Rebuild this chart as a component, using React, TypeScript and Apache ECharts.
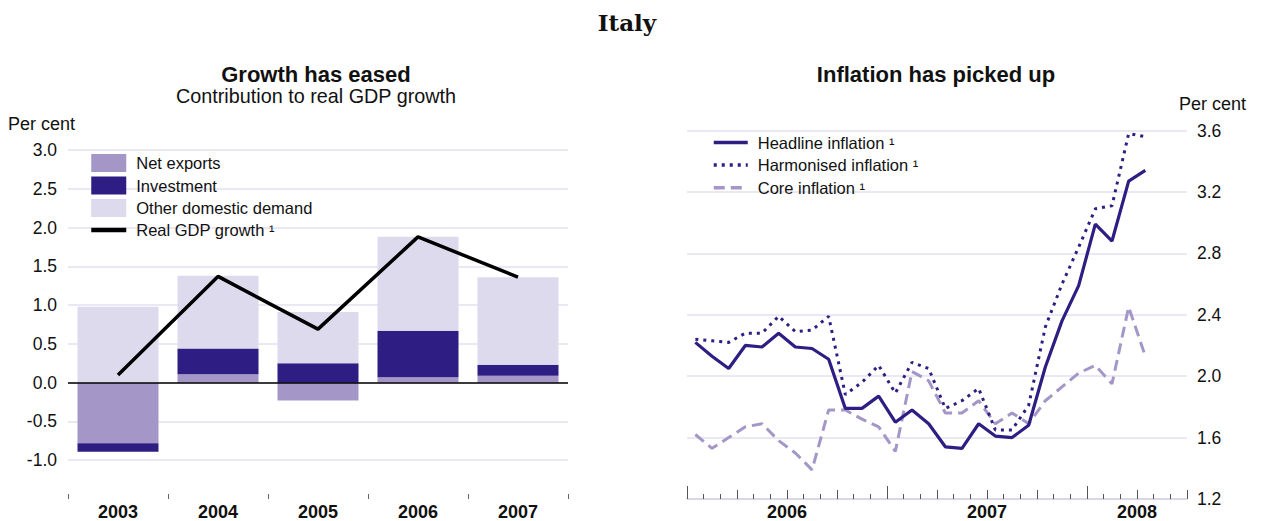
import React, { useEffect, useRef } from "react";
import * as echarts from "echarts";

// ---- Left panel: contribution to real GDP growth ----
const years = ["2003", "2004", "2005", "2006", "2007"];
const netExports = [-0.78, 0.11, -0.23, 0.07, 0.09];
const investment = [-0.11, 0.33, 0.25, 0.6, 0.14];
const otherDomestic = [0.98, 0.94, 0.66, 1.21, 1.13];
const realGdp = [0.1, 1.37, 0.69, 1.88, 1.36];

// ---- Right panel: inflation (monthly, Jan 2006 - Jun 2008 axis) ----
const months = [
  "Jan 2006", "Feb 2006", "Mar 2006", "Apr 2006", "May 2006", "Jun 2006",
  "Jul 2006", "Aug 2006", "Sep 2006", "Oct 2006", "Nov 2006", "Dec 2006",
  "Jan 2007", "Feb 2007", "Mar 2007", "Apr 2007", "May 2007", "Jun 2007",
  "Jul 2007", "Aug 2007", "Sep 2007", "Oct 2007", "Nov 2007", "Dec 2007",
  "Jan 2008", "Feb 2008", "Mar 2008", "Apr 2008", "May 2008", "Jun 2008",
];
const headline = [
  2.22, 2.13, 2.05, 2.2, 2.19, 2.28, 2.19, 2.18, 2.11, 1.79, 1.79, 1.87,
  1.7, 1.78, 1.69, 1.54, 1.53, 1.69, 1.61, 1.6, 1.68, 2.06, 2.36, 2.59,
  2.99, 2.88, 3.27, 3.34,
];
const harmonised = [
  2.24, 2.23, 2.22, 2.28, 2.28, 2.39, 2.29, 2.3, 2.39, 1.88, 1.96, 2.07,
  1.89, 2.09, 2.05, 1.79, 1.84, 1.92, 1.65, 1.65, 1.81, 2.32, 2.6, 2.84,
  3.09, 3.11, 3.58, 3.56,
];
const core = [
  1.62, 1.53, 1.6, 1.67, 1.69, 1.58, 1.5, 1.39, 1.78, 1.78, 1.72, 1.67,
  1.51, 2.03, 1.97, 1.76, 1.76, 1.84, 1.69, 1.76, 1.69, 1.84, 1.93, 2.02,
  2.07, 1.95, 2.45, 2.13,
];
const yearLabelText = ["2006", "2007", "2008"];
const yearLabelPos = [6, 18, 27];
const yearTickPos = [0, 12, 24];

const FONT = '"Liberation Sans", Arial, Helvetica, sans-serif';
const DARK = "#2e1d82";
const LIGHT = "#a497c8";
const PALE = "#dedaed";
const GRID = "#e4e1f0";

export default function App() {
  const ref = useRef<HTMLDivElement>(null);

  useEffect(() => {
    if (!ref.current) return;
    const chart = echarts.init(ref.current, null, { renderer: "svg" });

    const textBase = { fontFamily: FONT, color: "#111" };
    const noSymbol = { itemStyle: { opacity: 0 } };

    const option: any = {
      animation: false,
      backgroundColor: "#fff",
      textStyle: { fontFamily: FONT },
      graphic: [
        {
          type: "text", x: 627, y: 22,
          style: { text: "Italy", font: 'bold 23px "DejaVu Serif", serif', fill: "#111", align: "center", verticalAlign: "middle" },
        },
        {
          type: "text", x: 316, y: 74,
          style: { text: "Growth has eased", font: `bold 22px ${FONT}`, fill: "#111", align: "center", verticalAlign: "middle" },
        },
        {
          type: "text", x: 316, y: 96,
          style: { text: "Contribution to real GDP growth", font: `19.8px ${FONT}`, fill: "#111", align: "center", verticalAlign: "middle" },
        },
        {
          type: "text", x: 936, y: 74,
          style: { text: "Inflation has picked up", font: `bold 22px ${FONT}`, fill: "#111", align: "center", verticalAlign: "middle" },
        },
        {
          type: "text", x: 8, y: 124,
          style: { text: "Per cent", font: `18px ${FONT}`, fill: "#111", align: "left", verticalAlign: "middle" },
        },
        {
          type: "text", x: 1179, y: 104,
          style: { text: "Per cent", font: `18px ${FONT}`, fill: "#111", align: "left", verticalAlign: "middle" },
        },
      ],
      legend: [
        {
          left: 84, top: 149, orient: "vertical",
          itemWidth: 35, itemHeight: 18, itemGap: 4.5,
          lineStyle: { width: 4.5 },
          textStyle: { ...textBase, fontSize: 16.5, padding: [0, 0, 0, 5] },
          data: [
            { name: "Net exports", icon: "rect" },
            { name: "Investment", icon: "rect" },
            { name: "Other domestic demand", icon: "rect" },
            { name: "Real GDP growth ¹", ...noSymbol },
          ],
        },
        {
          left: 707, top: 129, orient: "vertical",
          itemWidth: 34, itemHeight: 18, itemGap: 5.6,
          lineStyle: { width: 3.5 },
          textStyle: { ...textBase, fontSize: 16.5, padding: [0, 0, 0, 5] },
          data: [
            { name: "Headline inflation ¹", ...noSymbol },
            { name: "Harmonised inflation ¹", ...noSymbol },
            { name: "Core inflation ¹", ...noSymbol },
          ],
        },
      ],
      grid: [
        { left: 68, right: 1264 - 568, top: 150, bottom: 20, containLabel: false },
        { left: 687, right: 1264 - 1187, top: 130.5, bottom: 19.5, containLabel: false },
      ],
      xAxis: [
        {
          type: "category", gridIndex: 0, data: years, position: "bottom",
          axisLine: { show: false, onZero: false },
          axisTick: { show: true, inside: true, length: 5, lineStyle: { color: "#666", width: 1 } },
          axisLabel: { ...textBase, fontSize: 18, fontWeight: "bold", margin: 4 },
          splitLine: { show: false },
        },
        {
          type: "category", gridIndex: 1, data: months, position: "bottom", boundaryGap: true,
          axisLine: { show: true, onZero: false, lineStyle: { color: "#cfcae3", width: 1.5 } },
          axisTick: { show: false },
          axisLabel: { show: false },
          splitLine: { show: false },
        },
        {
          type: "value", gridIndex: 1, position: "bottom", min: 0, max: months.length, interval: 1,
          axisLine: { show: false, onZero: false },
          axisTick: { show: true, inside: true, length: 5, lineStyle: { color: "#555" } },
          axisLabel: { show: false },
          splitLine: { show: false },
        },
        {
          type: "value", gridIndex: 1, position: "bottom", min: 0, max: months.length, interval: 3,
          axisLine: { show: false, onZero: false },
          axisTick: { show: true, inside: true, length: 9, lineStyle: { color: "#555" } },
          axisLabel: {
            show: true, ...textBase, fontSize: 18, fontWeight: "bold", margin: 4,
            customValues: yearLabelPos,
            formatter: (v: number) => {
              const i = yearLabelPos.indexOf(v);
              return i >= 0 ? yearLabelText[i] : "";
            },
          },
          splitLine: { show: false },
        },
        {
          type: "value", gridIndex: 1, position: "bottom", min: 0, max: months.length, interval: 12,
          axisLine: { show: false, onZero: false },
          axisTick: { show: true, inside: true, length: 13, lineStyle: { color: "#555" }, customValues: yearTickPos },
          axisLabel: { show: false },
          splitLine: { show: false },
        },
      ],
      yAxis: [
        {
          type: "value", gridIndex: 0, min: -1.5, max: 3, interval: 0.5,
          axisLine: { show: false }, axisTick: { show: false },
          axisLabel: {
            ...textBase, fontSize: 17.5, margin: 11,
            formatter: (v: number) => (v <= -1.5 ? "" : v.toFixed(1)),
          },
          splitLine: { show: true, showMinLine: false, lineStyle: { color: GRID, width: 1.5 } },
        },
        {
          type: "value", gridIndex: 1, position: "right", min: 1.2, max: 3.6, interval: 0.4,
          axisLine: { show: false }, axisTick: { show: false },
          axisLabel: { ...textBase, fontSize: 17.5, margin: 10, formatter: (v: number) => v.toFixed(1) },
          splitLine: { show: true, showMinLine: false, lineStyle: { color: GRID, width: 1.5 } },
        },
      ],
      series: [
        {
          name: "Net exports", type: "bar", stack: "gdp", xAxisIndex: 0, yAxisIndex: 0,
          barCategoryGap: "19%", data: netExports, itemStyle: { color: LIGHT },
          markLine: {
            silent: true, symbol: ["none", "none"], label: { show: false },
            lineStyle: { color: "#000", width: 1.5, type: "solid" },
            data: [{ yAxis: 0 }], z: 10,
          },
        },
        {
          name: "Investment", type: "bar", stack: "gdp", xAxisIndex: 0, yAxisIndex: 0,
          barCategoryGap: "19%", data: investment, itemStyle: { color: DARK },
        },
        {
          name: "Other domestic demand", type: "bar", stack: "gdp", xAxisIndex: 0, yAxisIndex: 0,
          barCategoryGap: "19%", data: otherDomestic, itemStyle: { color: PALE },
        },
        {
          name: "Real GDP growth ¹", type: "line", xAxisIndex: 0, yAxisIndex: 0,
          data: realGdp, symbol: "none", z: 12, color: "#000",
          lineStyle: { color: "#000", width: 3.5 },
        },
        {
          name: "Headline inflation ¹", type: "line", xAxisIndex: 1, yAxisIndex: 1,
          data: headline, symbol: "none", color: DARK, z: 4,
          lineStyle: { color: DARK, width: 3.2 },
        },
        {
          name: "Harmonised inflation ¹", type: "line", xAxisIndex: 1, yAxisIndex: 1,
          data: harmonised, symbol: "none", color: DARK, z: 3,
          lineStyle: { color: DARK, width: 3, type: [3, 5] },
        },
        {
          name: "Core inflation ¹", type: "line", xAxisIndex: 1, yAxisIndex: 1,
          data: core, symbol: "none", color: LIGHT, z: 2,
          lineStyle: { color: LIGHT, width: 3, type: [11, 6] },
        },
      ],
    };

    chart.setOption(option);
    return () => chart.dispose();
  }, []);

  return (
    <div
      ref={ref}
      style={{ position: "absolute", left: 0, top: 0, width: 1264, height: 521, background: "#fff" }}
    />
  );
}
